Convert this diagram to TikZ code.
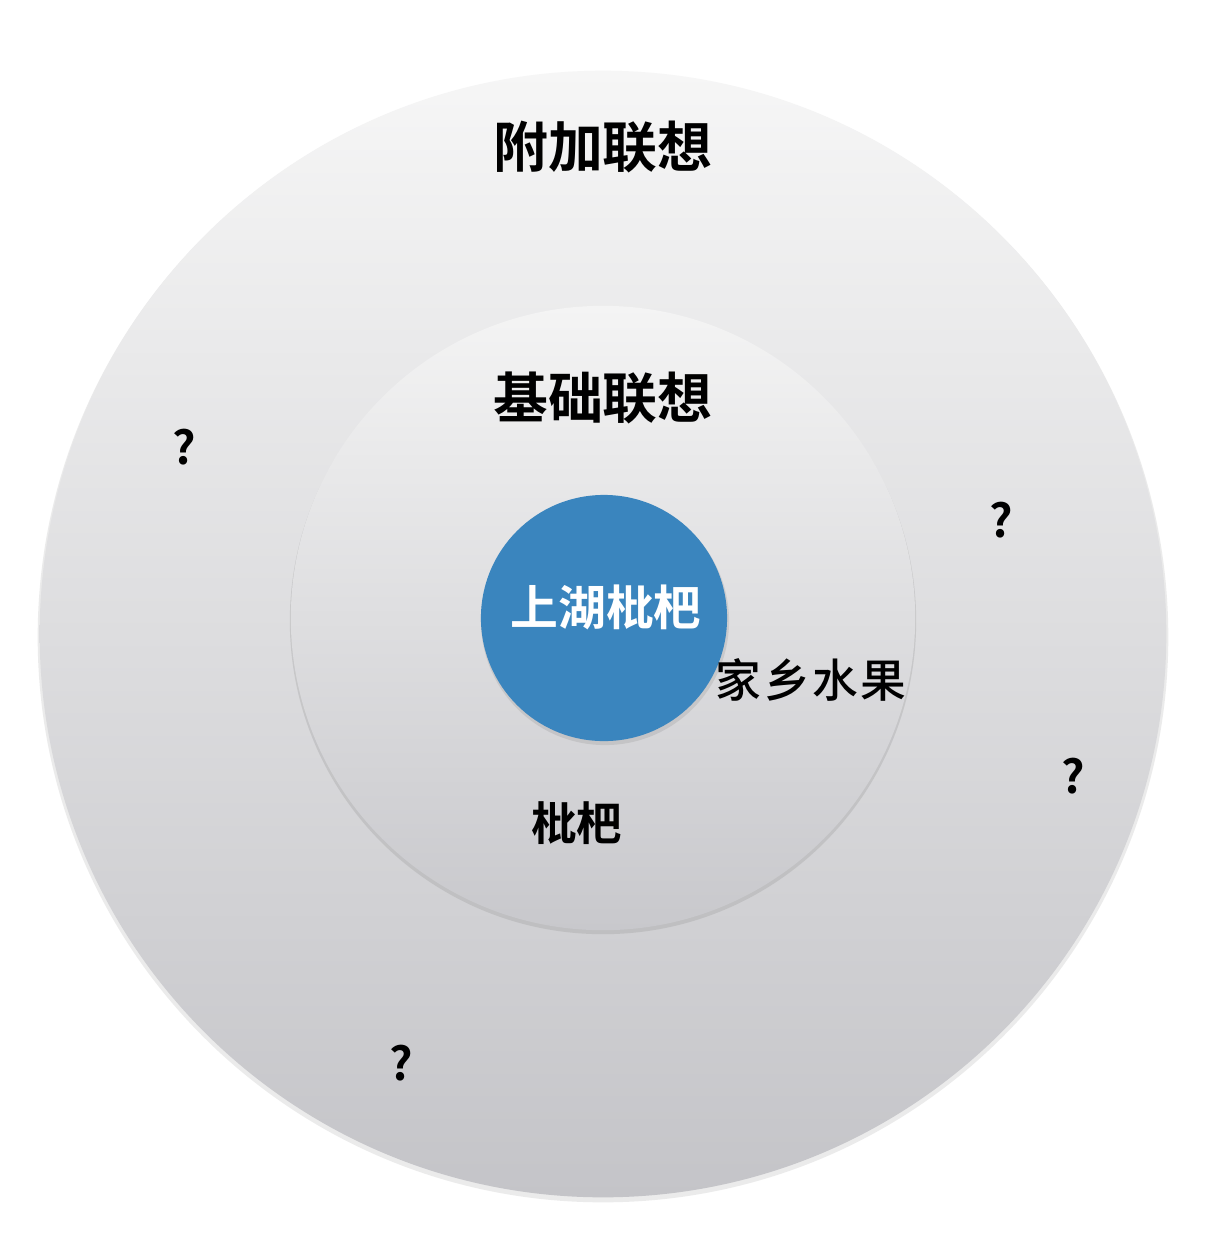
\documentclass[tikz,border=0pt]{standalone}
\usepackage{fontspec}
\newfontfamily\cjk{Noto Sans CJK SC}
\newfontfamily\cjkm{Noto Sans CJK SC Medium}
\newfontfamily\cjkb{Noto Sans CJK SC Bold}
\definecolor{coreblue}{RGB}{58,133,190}
\definecolor{outertop}{RGB}{246,246,246}
\definecolor{outermid}{RGB}{230,230,231}
\definecolor{outerbot}{RGB}{196,196,200}
\definecolor{innertop}{RGB}{244,244,244}
\definecolor{innerbot}{RGB}{200,200,204}
\tikzset{
  ringtitle/.style={font=\cjkb\fontsize{15.6pt}{18pt}\selectfont, text=black, inner sep=0pt},
  coretext/.style={font=\cjkb\fontsize{13.6pt}{16pt}\selectfont, text=white, inner sep=0pt},
  assoc/.style={font=\cjkm\fontsize{13pt}{16pt}\selectfont, text=black, inner sep=0pt},
  assocb/.style={font=\cjkb\fontsize{13pt}{16pt}\selectfont, text=black, inner sep=0pt},
  qmark/.style={font=\cjkb\fontsize{13pt}{16pt}\selectfont, text=black, inner sep=0pt},
}
\begin{document}
\begin{tikzpicture}[x=0.01cm,y=-0.01cm]
\useasboundingbox[fill=white] (0,0) rectangle (1226,1256);
% outer ring
\fill[black!25, opacity=0.3] (603,637) circle[radius=5.65cm];
\shade[top color=outertop, middle color=outermid, bottom color=outerbot] (603,634) circle[radius=5.63cm];
% inner ring
\fill[black!40, opacity=0.3] (603,621) circle[radius=3.13cm];
\shade[top color=innertop, bottom color=innerbot] (603,618) circle[radius=3.12cm];
% core
\fill[black!50, opacity=0.2] (605,621) circle[radius=1.24cm];
\fill[coreblue] (604,618) circle[radius=1.23cm];
% texts
\node[ringtitle] (outer) at (603,147) {附加联想};
\node[ringtitle] (inner) at (603,398) {基础联想};
\node[coretext] (core) at (606,607) {上湖枇杷};
\node[assoc] (fruit) at (811,680) {家\hspace{0.7pt}乡\hspace{0.7pt}水\hspace{0.7pt}果};
\node[assocb] (pipa) at (577,823) {枇杷};
\node[qmark] (q1) at (184,447) {?};
\node[qmark] (q2) at (1001,520) {?};
\node[qmark] (q3) at (1073,776) {?};
\node[qmark] (q4) at (401,1063) {?};
\end{tikzpicture}
\end{document}
